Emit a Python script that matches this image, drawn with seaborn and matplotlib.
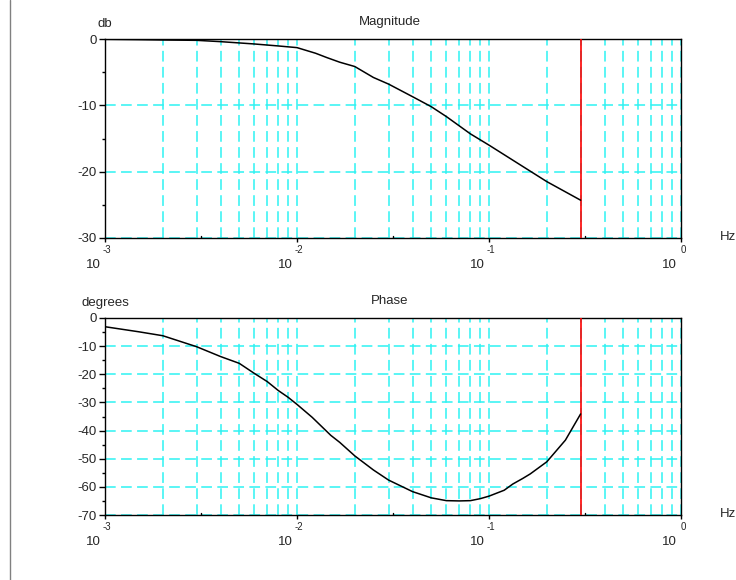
"""
Bode plot (Magnitude / Phase) redrawn with seaborn
"""
import numpy as np
import pandas as pd
import matplotlib
matplotlib.use("Agg")
import matplotlib.pyplot as plt
import matplotlib.transforms as mtransforms
from matplotlib.lines import Line2D
from matplotlib.ticker import LogLocator, MultipleLocator, NullFormatter
import seaborn as sns

# Datos
mag_freq = [0.001, 0.0015, 0.002, 0.003, 0.004, 0.006, 0.008, 0.01, 0.0125,
            0.0143, 0.0167, 0.02, 0.025, 0.03, 0.04, 0.05, 0.06, 0.08, 0.1,
            0.2, 0.3]
mag_db = [-0.05, -0.1, -0.15, -0.2, -0.4, -0.75, -1.05, -1.3, -2.15,
          -2.8, -3.5, -4.15, -5.8, -6.8, -8.7, -10.2, -11.7, -14.3, -16.0,
          -21.5, -24.3]

phase_freq = [0.001, 0.0015, 0.002, 0.003, 0.004, 0.005, 0.006, 0.007, 0.008,
              0.009, 0.01, 0.012, 0.015, 0.0167, 0.02, 0.025, 0.03, 0.04,
              0.05, 0.06, 0.07, 0.08, 0.09, 0.1, 0.12, 0.133, 0.15, 0.164,
              0.2, 0.25, 0.3]
phase_deg = [-3.1, -4.9, -6.3, -10.2, -13.7, -16.1, -19.7, -22.6, -25.8,
             -28.2, -30.7, -35.3, -41.7, -44.2, -49.0, -54.0, -57.6, -61.7,
             -63.9, -64.9, -65.0, -64.9, -64.2, -63.3, -61.2, -59.0, -57.0,
             -55.4, -51.1, -43.4, -34.1]

marker_freq = 0.3
decade_exps = [-3, -2, -1, 0]

sns.set_theme(style="white")
plt.rcParams['font.family'] = ['Liberation Sans', 'DejaVu Sans']
plt.rcParams['font.size'] = 9.5
plt.rcParams['axes.unicode_minus'] = False

W, H = 736, 580
fig = plt.figure(figsize=(W / 100, H / 100), dpi=100)

# posiciones en pixeles: (izq, arriba, der, abajo)
boxes = [(105, 39, 681, 238), (105, 318, 681, 515)]
grid_color = '#2ef2f2'


def make_ax(box):
    l, t, r, b = box
    return fig.add_axes([l / W, 1 - b / H, (r - l) / W, (b - t) / H])


def style_ax(ax, ylim, title, ylabel):
    ax.set_xscale('log')
    ax.set_xlim(1e-3, 1)
    ax.set_ylim(*ylim)
    ax.set_xlabel('')
    ax.set_ylabel('')
    ax.set_title('')
    for s in ax.spines.values():
        s.set_color('black')
        s.set_linewidth(1.0)
        s.set_visible(True)

    # rejilla
    ax.xaxis.set_major_locator(LogLocator(base=10, numticks=10))
    ax.xaxis.set_minor_locator(LogLocator(base=10, subs=np.arange(2, 10), numticks=20))
    ax.xaxis.set_major_formatter(NullFormatter())
    ax.xaxis.set_minor_formatter(NullFormatter())
    ax.yaxis.set_major_locator(MultipleLocator(10))
    ax.yaxis.set_minor_locator(MultipleLocator(5))
    ax.grid(True, axis='x', which='both', color=grid_color,
            linestyle=(0, (7, 3.5)), linewidth=1.1)
    ax.grid(True, axis='y', which='major', color=grid_color,
            linestyle=(0, (7, 3.5)), linewidth=1.1)
    ax.set_axisbelow(True)

    ax.tick_params(axis='x', which='major', direction='out', length=3,
                   width=1, color='black', bottom=True)
    ax.tick_params(axis='x', which='minor', length=0)
    ax.tick_params(axis='y', which='major', direction='out', length=4,
                   width=1, color='black', left=True, labelsize=9.5, pad=2)
    ax.tick_params(axis='y', which='minor', direction='out', length=2.5,
                   width=1, color='black', left=True)

    # marcas de media decada hacia dentro
    for e in decade_exps[:-1]:
        ax.axvline(10 ** (e + 0.5), ymin=0, ymax=0.012, color='black', lw=1)

    # etiquetas 10^n estilo Scilab
    xt = ax.get_xaxis_transform()
    base_tr = mtransforms.offset_copy(xt, fig=fig, x=-12, y=-27, units='dots')
    exp_tr = mtransforms.offset_copy(xt, fig=fig, x=2, y=-12, units='dots')
    for e in decade_exps:
        ax.text(10.0 ** e, 0, '10', transform=base_tr, ha='center',
                va='center', fontsize=9.5)
        ax.text(10.0 ** e, 0, str(e), transform=exp_tr, ha='center',
                va='center', fontsize=7)

    ax.axvline(marker_freq, color='red', lw=1.2, zorder=3)

    ax.text(0.5, 1, title, transform=mtransforms.offset_copy(
        ax.transAxes, fig=fig, x=-3, y=17, units='dots'),
        ha='center', va='center', fontsize=9.5)
    ax.text(0, 1, ylabel, transform=mtransforms.offset_copy(
        ax.transAxes, fig=fig, x=0, y=15, units='dots'),
        ha='center', va='center', fontsize=9.5)
    ax.text(1, 0, 'Hz', transform=mtransforms.offset_copy(
        ax.transAxes, fig=fig, x=47, y=1, units='dots'),
        ha='center', va='center', fontsize=9.5)


mag_df = pd.DataFrame({'freq': mag_freq, 'db': mag_db})
phase_df = pd.DataFrame({'freq': phase_freq, 'deg': phase_deg})

ax1 = make_ax(boxes[0])
sns.lineplot(data=mag_df, x='freq', y='db', ax=ax1, color='black',
             linewidth=1.1, sort=False, estimator=None, zorder=4)
style_ax(ax1, (-30, 0), 'Magnitude', 'db')

ax2 = make_ax(boxes[1])
sns.lineplot(data=phase_df, x='freq', y='deg', ax=ax2, color='black',
             linewidth=1.1, sort=False, estimator=None, zorder=4)
style_ax(ax2, (-70, 0), 'Phase', 'degrees')

# linea gris a la izquierda
fig.add_artist(Line2D([9.5 / W, 9.5 / W], [0, 1], transform=fig.transFigure,
                      color='#808080', lw=1))

fig.savefig('out.png', dpi=100, facecolor='white')
